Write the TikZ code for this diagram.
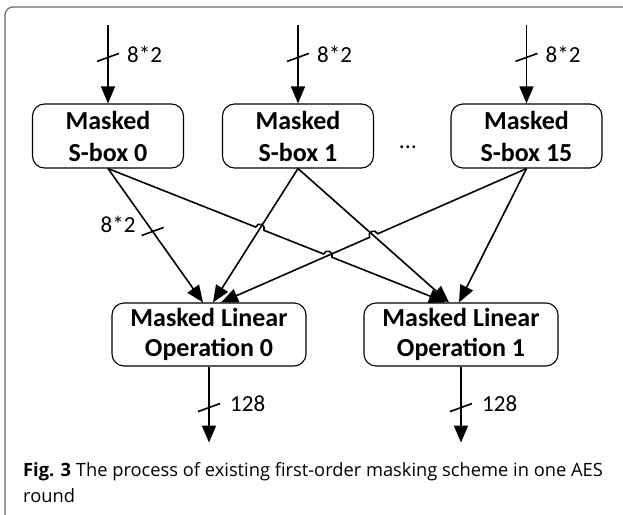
\documentclass[tikz,border=0pt]{standalone}
\usepackage{fontspec}
\setmainfont{Carlito}
\newfontfamily\capfont{Open Sans}
\usetikzlibrary{arrows.meta,calc,intersections}
\begin{document}
\begin{tikzpicture}[x=1pt,y=-1pt,
  box/.style={draw, rounded corners=12pt, line width=1.1pt, minimum width=151pt,
    minimum height=64pt, align=center, inner sep=0pt,
    font=\fontsize{26}{32}\selectfont\bfseries},
  opbox/.style={box, minimum width=194pt, minimum height=63pt,
    font=\fontsize{26}{30}\selectfont\bfseries},
  conn/.style={line width=1.6pt, -{Triangle[length=17pt,width=14pt]}},
  tickmark/.style={line width=1.6pt},
  lbl/.style={font=\fontsize{23}{23}\selectfont, inner sep=0pt},
  hop/.style={looseness=1.7},
]
\useasboundingbox (0,0) rectangle (623,514);
% frame
\begin{scope}
\clip (0,0) rectangle (623,514);
\draw[black!60, line width=1.2pt, rounded corners=8pt] (5,7) rectangle (660,560);
\end{scope}

% S-boxes
\node[box] (s0)  at (108,136)   {Masked\\S-box 0};
\node[box] (s1)  at (298,136)   {Masked\\S-box 1};
\node[box] (s15) at (526.5,136) {Masked\\S-box 15};
\node[font=\fontsize{24}{24}\selectfont, anchor=base, inner sep=0pt] (dots) at (408,148) {…};

% operation boxes
\node[opbox] (op0) at (209,334.5) {Masked Linear\\Operation 0};
\node[opbox] (op1) at (461,334.5) {Masked Linear\\Operation 1};

% input arrows
\foreach \s in {s0,s1,s15}{
  \coordinate (in-\s) at ($(\s.north)+(0,-78)$);
  \draw[conn] (in-\s) -- (\s.north);
  \coordinate (t-\s) at ($(in-\s)!0.41!(\s.north)$);
  \draw[tickmark] ($(t-\s)+(-11,4)$) -- ($(t-\s)+(11,-4)$);
  \node[lbl, anchor=west] at ($(t-\s)+(19,-3)$) {8*2};
}

% output arrows
\foreach \o in {op0,op1}{
  \coordinate (out-\o) at ($(\o.south)+(0,76)$);
  \draw[conn] (\o.south) -- (out-\o);
  \coordinate (t-\o) at ($(\o.south)!0.54!(out-\o)$);
  \draw[tickmark] ($(t-\o)+(-11,4)$) -- ($(t-\o)+(11,-4)$);
  \node[lbl, anchor=west] at ($(t-\o)+(21,-4)$) {128};
}

% end points on operation boxes
\coordinate (e00)  at ($(op0.north)+(-6,0)$);
\coordinate (e10)  at ($(op0.north)+(4,0)$);
\coordinate (e150) at ($(op0.north)+(12,0)$);
\coordinate (e01)  at ($(op1.north)+(-15,0)$);
\coordinate (e11)  at ($(op1.north)+(-12,0)$);
\coordinate (e151) at ($(op1.north)+(-2,0)$);

% helper paths for crossings
\path[name path=p01]  (s0.south) -- (e01);
\path[name path=p10]  (s1.south) -- (e10);
\path[name path=p150] (s15.south) -- (e150);
\path[name path=p11]  (s1.south) -- (e11);
\path[name intersections={of=p01 and p10, by=h1}];
\path[name intersections={of=p01 and p150, by=h2}];
\path[name intersections={of=p150 and p11, by=h3}];

% connectors
\draw[conn] (s0.south) -- (e00);
\coordinate (t-mid) at ($(s0.south)!0.47!(e00)$);
\draw[tickmark] ($(t-mid)+(-11,4)$) -- ($(t-mid)+(11,-4)$);
\node[lbl, anchor=east] at ($(t-mid)+(-17,-7)$) {8*2};

\draw[conn] (s0.south) -- ($(h1)!4.5pt!(s0.south)$)
  to[bend left=90, hop] ($(h1)!4.5pt!(e01)$)
  -- ($(h2)!4.5pt!(s0.south)$)
  to[bend left=90, hop] ($(h2)!4.5pt!(e01)$) -- (e01);
\draw[conn] (s1.south) -- (e10);
\draw[conn] (s1.south) -- (e11);
\draw[conn] (s15.south) -- ($(h3)!4.5pt!(s15.south)$)
  to[bend right=90, hop] ($(h3)!4.5pt!(e150)$) -- (e150);
\draw[conn] (s15.south) -- (e151);

% caption
\node[font=\capfont\fontsize{18.3}{26}\selectfont, align=left, anchor=north west,
  inner sep=0pt] (cap) at (23,462)
  {\textbf{Fig. 3} The process of existing first-order masking scheme in one AES\\round};
\end{tikzpicture}
\end{document}
